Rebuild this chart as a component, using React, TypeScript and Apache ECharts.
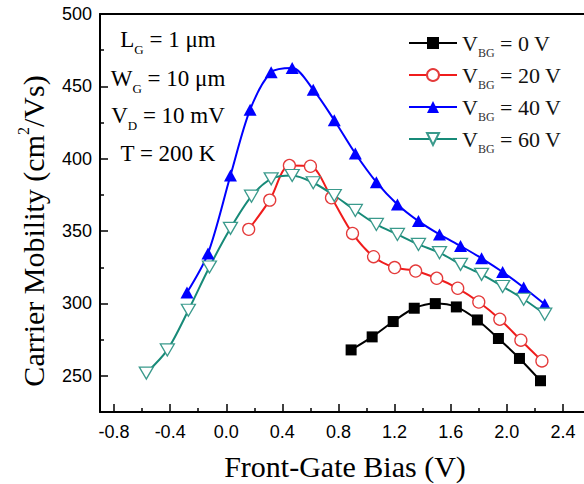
import React, { useEffect, useRef } from "react";
import * as echarts from "echarts";

// ---- data ----
const seriesNames = ["VBG = 0 V", "VBG = 20 V", "VBG = 40 V", "VBG = 60 V"];

const xVBG0 = [0.89, 1.04, 1.19, 1.34, 1.49, 1.64, 1.79, 1.94, 2.09, 2.24];
const yVBG0 = [267.9, 276.9, 287.5, 296.7, 299.9, 297.6, 288.6, 275.8, 262.0, 246.6];

const xVBG20 = [0.16, 0.31, 0.45, 0.6, 0.75, 0.9, 1.05, 1.2, 1.35, 1.5, 1.65, 1.8, 1.95, 2.1, 2.25];
const yVBG20 = [351.2, 371.4, 395.3, 394.8, 373.0, 348.4, 332.3, 324.8, 322.4, 317.4, 310.5, 301.0, 289.1, 274.6, 260.3];

const xVBG40 = [-0.28, -0.13, 0.03, 0.17, 0.32, 0.47, 0.62, 0.77, 0.92, 1.07, 1.22, 1.37, 1.52, 1.67, 1.82, 1.97, 2.12, 2.27];
const yVBG40 = [307.5, 334.6, 388.4, 433.9, 459.7, 462.7, 447.7, 426.6, 403.6, 383.8, 368.4, 356.9, 347.7, 339.7, 331.2, 321.7, 311.0, 299.4];

const xVBG60 = [-0.57, -0.42, -0.27, -0.12, 0.03, 0.18, 0.32, 0.47, 0.62, 0.77, 0.92, 1.07, 1.22, 1.37, 1.52, 1.67, 1.82, 1.97, 2.12, 2.27];
const yVBG60 = [251.9, 267.9, 295.3, 325.2, 351.9, 374.1, 386.1, 388.4, 383.4, 374.6, 364.3, 354.6, 347.7, 340.8, 335.1, 327.0, 320.1, 311.7, 302.9, 292.6];

const xMajorTicks = [-0.8, -0.4, 0.0, 0.4, 0.8, 1.2, 1.6, 2.0, 2.4];
const xMinorTicks = [-0.6, -0.2, 0.2, 0.6, 1.0, 1.4, 1.8, 2.2];
const yMajorTicks = [250, 300, 350, 400, 450, 500];
const yMinorTicks = [275, 325, 375, 425, 475];

const annotMain = ["L", "W", "V", "T"];
const annotSub = ["G", "G", "D", ""];
const annotRest = [" = 1 μm", " = 10 μm", " = 10 mV", " = 200 K"];

const xTitle = "Front-Gate Bias (V)";

const SERIF = "'Liberation Serif', 'Times New Roman', serif";
const SANS = "'Liberation Sans', Arial, sans-serif";

const pairs = (xs: number[], ys: number[]) => xs.map((x, i) => [x, ys[i]]);

export default function App() {
  const ref = useRef<HTMLDivElement>(null);
  useEffect(() => {
    const chart = echarts.init(ref.current!, null, { renderer: "svg" });
    const XMIN = -0.9, XMAX = 2.55, YMIN = 225, YMAX = 500;
    const tickStyle = { color: "#000", width: 1.5 };

    const annotY = [39, 78, 115, 153];
    const annotGraphics = annotMain.map((m, i) => ({
      type: "text",
      x: 168,
      y: annotY[i],
      style: {
        text: annotSub[i]
          ? `{m|${m}}{s|${annotSub[i]}}{m|${annotRest[i]}}`
          : `{m|${m}${annotRest[i]}}`,
        rich: {
          m: { fontSize: 23, fontFamily: SERIF, lineHeight: 26, fill: "#000", color: "#000" },
          s: { fontSize: 13, fontFamily: SERIF, lineHeight: 13, padding: [20, 0, 0, 0], fill: "#000", color: "#000" },
        },
        align: "center",
        verticalAlign: "middle",
        textAlign: "center",
        textVerticalAlign: "middle",
      },
    }));

    const option: any = {
      animation: false,
      backgroundColor: "#fff",
      grid: { left: 100, right: 0, top: 14, bottom: 72, containLabel: false },
      xAxis: [
        {
          type: "value", min: XMIN, max: XMAX, position: "bottom",
          axisLine: { show: true, onZero: false, lineStyle: { color: "#000", width: 2 } },
          axisTick: { show: true, inside: true, length: 8, customValues: xMajorTicks, lineStyle: tickStyle },
          axisLabel: {
            customValues: xMajorTicks, formatter: (v: number) => v.toFixed(1),
            fontSize: 18, fontFamily: SANS, color: "#000", margin: 11,
          },
          splitLine: { show: false },
        },
        {
          type: "value", min: XMIN, max: XMAX, position: "bottom",
          axisLine: { show: false, onZero: false },
          axisTick: { show: true, inside: true, length: 4, customValues: xMinorTicks, lineStyle: tickStyle },
          axisLabel: { show: false },
          splitLine: { show: false },
        },
        {
          type: "value", min: XMIN, max: XMAX, position: "top",
          axisLine: { show: true, onZero: false, lineStyle: { color: "#000", width: 2 } },
          axisTick: { show: false }, axisLabel: { show: false }, splitLine: { show: false },
        },
      ],
      yAxis: [
        {
          type: "value", min: YMIN, max: YMAX, position: "left",
          axisLine: { show: true, onZero: false, lineStyle: { color: "#000", width: 2 } },
          axisTick: { show: true, inside: true, length: 8, customValues: yMajorTicks, lineStyle: tickStyle },
          axisLabel: { customValues: yMajorTicks, fontSize: 18, fontFamily: SANS, color: "#000", margin: 8 },
          splitLine: { show: false },
        },
        {
          type: "value", min: YMIN, max: YMAX, position: "left",
          axisLine: { show: false, onZero: false },
          axisTick: { show: true, inside: true, length: 4, customValues: yMinorTicks, lineStyle: tickStyle },
          axisLabel: { show: false }, splitLine: { show: false },
        },
      ],
      legend: {
        orient: "vertical", left: 403, top: 22, itemWidth: 48, itemHeight: 15, itemGap: 0,
        selectedMode: false,
        data: seriesNames,
        formatter: (n: string) => `{v|V}{s|BG}{v|${n.replace("VBG", "")}}`,
        textStyle: {
          rich: {
            v: { fontSize: 22, fontFamily: SERIF, color: "#111", lineHeight: 24 },
            s: { fontSize: 12, fontFamily: SERIF, color: "#333", lineHeight: 12, padding: [20, 0, 0, 0] },
          },
        },
      },
      graphic: [
        ...annotGraphics,
        {
          type: "text", x: 345, y: 466,
          style: {
            text: xTitle, fontSize: 30, fontFamily: SERIF, fill: "#000",
            align: "center", verticalAlign: "middle", textAlign: "center", textVerticalAlign: "middle",
          },
        },
        {
          type: "text", x: 33, y: 231, rotation: Math.PI / 2,
          style: {
            text: "{a|Carrier Mobility (cm}{p|2}{a|/Vs)}",
            rich: {
              a: { fontSize: 30, fontFamily: SERIF, lineHeight: 32, fill: "#000", color: "#000" },
              p: { fontSize: 16, fontFamily: SERIF, lineHeight: 16, padding: [0, 0, 20, 0], fill: "#000", color: "#000" },
            },
            align: "center", verticalAlign: "middle", textAlign: "center", textVerticalAlign: "middle",
          },
        },
      ],
      series: [
        {
          name: seriesNames[0], type: "line", data: pairs(xVBG0, yVBG0), smooth: 0.3,
          symbol: "rect", symbolSize: 11,
          lineStyle: { color: "#000", width: 2 }, itemStyle: { color: "#000" },
        },
        {
          name: seriesNames[1], type: "line", data: pairs(xVBG20, yVBG20), smooth: 0.3,
          symbol: "circle", symbolSize: 12,
          lineStyle: { color: "#f01c1c", width: 2 },
          itemStyle: { color: "#fff", borderColor: "#e43a3a", borderWidth: 1.3 },
        },
        {
          name: seriesNames[2], type: "line", data: pairs(xVBG40, yVBG40), smooth: 0.3,
          symbol: "triangle", symbolSize: [13, 12],
          lineStyle: { color: "#0000ff", width: 2 }, itemStyle: { color: "#0000ff" },
        },
        {
          name: seriesNames[3], type: "line", data: pairs(xVBG60, yVBG60), smooth: 0.3,
          symbol: "triangle", symbolRotate: 180, symbolSize: [14, 12],
          lineStyle: { color: "#178a78", width: 2 },
          itemStyle: { color: "#fff", borderColor: "#3a9a8c", borderWidth: 1.3 },
        },
      ],
    };
    chart.setOption(option);
    return () => chart.dispose();
  }, []);
  return (
    <div
      ref={ref}
      style={{ position: "absolute", left: 0, top: 0, width: 584, height: 484 }}
    />
  );
}
